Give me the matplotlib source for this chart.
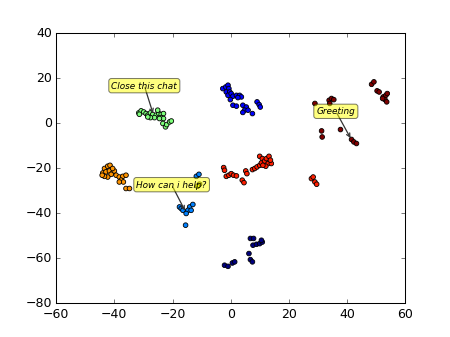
import matplotlib
matplotlib.use("Agg")
import matplotlib.pyplot as plt
import numpy as np

# t-SNE style clusters, one list of (x, y) per intent
c0 = [(-2.1, -63.1), (-0.9, -63.6), (0.6, -62.1), (1.4, -61.6), (6.3, -57.9),
      (6.8, -60.6), (7.5, -61.6), (6.8, -51.2), (7.9, -51.2), (7.7, -54.2),
      (8.9, -53.8), (10.0, -53.5), (10.9, -52.8), (10.6, -52.0)]
c1 = [(-2.7, 15.4), (-1.7, 16.1), (-0.9, 16.9), (-0.6, 15.4), (-1.5, 13.9),
      (-0.3, 13.9), (-0.9, 12.4), (0.2, 13.2), (0.8, 12.0), (2.0, 12.4),
      (3.1, 12.4), (3.7, 11.7), (2.5, 11.4), (-0.1, 10.5), (0.8, 8.0),
      (2.0, 7.6), (4.2, 8.0), (5.4, 7.2), (4.8, 5.8), (4.2, 4.8), (6.0, 5.8),
      (7.5, 4.3), (9.1, 9.5), (9.8, 8.3), (10.2, 7.2)]
c2 = [(-11.8, -23.6), (-10.9, -22.7), (-17.6, -37.2), (-17.0, -37.9),
      (-16.4, -38.7), (-14.1, -37.2), (-13.0, -36.1), (-14.7, -38.7),
      (-13.6, -38.7), (-15.3, -40.1), (-15.5, -45.3)]
c4 = [(-31.6, 4.6), (-30.8, 5.5), (-29.9, 5.0), (-29.1, 4.3), (-28.5, 3.6),
      (-27.6, 4.6), (-26.8, 3.9), (-25.6, 3.6), (-24.7, 4.3), (-23.9, 3.9),
      (-23.1, 4.3), (-25.1, 5.8), (-23.9, 2.5), (-23.1, 2.1), (-24.5, 2.1),
      (-26.2, 2.5), (-27.6, 2.5), (-23.3, -0.1), (-22.4, -1.6), (-22.0, -0.6),
      (-21.0, 0.6), (-20.4, 1.0), (-31.4, 4.0), (-28.5, 2.8)]
c5 = [(-10.7, -27.1), (-11.4, -28.0)]
c6 = [(-43.4, -20.1), (-42.3, -19.1), (-41.5, -18.7), (-44.0, -22.1),
      (-42.9, -21.6), (-41.7, -21.2), (-40.6, -22.1), (-41.1, -22.7),
      (-42.3, -23.9), (-43.4, -23.6), (-40.0, -21.2), (-39.4, -23.1),
      (-38.3, -23.9), (-37.1, -23.6), (-36.0, -23.1), (-37.7, -25.3),
      (-36.9, -26.1), (-38.3, -26.1), (-36.0, -29.0), (-34.8, -29.0),
      (-44.2, -23.1), (-40.6, -20.1)]
c7 = [(-2.4, -19.7), (-2.1, -20.9), (-1.5, -23.6), (-0.6, -23.1), (0.2, -22.4),
      (1.0, -23.1), (2.0, -23.4), (5.2, -21.2), (5.6, -22.4), (4.0, -25.3),
      (4.6, -26.4), (7.5, -20.6), (8.3, -20.1), (9.1, -19.4), (10.0, -18.7),
      (10.6, -17.6), (10.0, -14.7), (10.9, -15.7), (11.7, -16.8), (12.3, -15.7),
      (13.2, -14.7), (12.9, -17.9), (14.0, -17.9), (12.1, -19.1), (11.1, -18.7),
      (13.7, -16.4), (27.8, -24.6), (28.4, -23.9), (29.0, -26.1), (29.6, -27.1)]
c8 = [(29.0, 8.8), (33.9, 10.2), (34.7, 11.0), (35.5, 10.5), (34.1, 8.8),
      (48.5, 17.3), (49.3, 18.4), (50.4, 14.4), (51.1, 13.9), (52.5, 11.7),
      (53.4, 12.4), (53.9, 13.2), (53.1, 10.5), (53.7, 9.5), (52.3, 11.0),
      (31.3, -3.4), (31.5, -6.1), (37.8, -2.8), (41.6, -7.2), (42.4, -8.3),
      (43.3, -9.0)]
clusters = [c0, c1, c2, c4, c5, c6, c7, c8]
cluster_ids = [0, 1, 2, 4, 5, 6, 7, 8]

labels = ["Close this chat", "Greeting", "How can i help?"]
label_points = [(-26.5, 3.5), (41.6, -7.4), (-15.4, -39.6)]
label_text_pos = [(-29.7, 16.7), (36.2, 5.3), (-20.3, -27.3)]

plt.style.use("classic")
fig = plt.figure(figsize=(6, 4.5), dpi=75)
ax = fig.add_subplot(111)

pts = np.concatenate([np.array(c) for c in clusters])
lab = np.concatenate([np.full(len(c), k) for k, c in zip(cluster_ids, clusters)])
ax.scatter(pts[:, 0], pts[:, 1], c=lab, cmap="jet", vmin=0, vmax=8,
           s=20, edgecolors="k", linewidths=0.8)

for text, xy, xyt in zip(labels, label_points, label_text_pos):
    ax.annotate(text, xy=xy, xytext=xyt, textcoords="data",
                ha="center", va="center", fontsize=8.5, style="italic",
                bbox=dict(boxstyle="round,pad=0.3", fc="yellow", alpha=0.5),
                arrowprops=dict(arrowstyle="->", color="0.2", lw=1.2, patchA=None))

ax.set_xlim(-60, 60)
ax.set_ylim(-80, 40)

fig.savefig("out.png", dpi=75)
